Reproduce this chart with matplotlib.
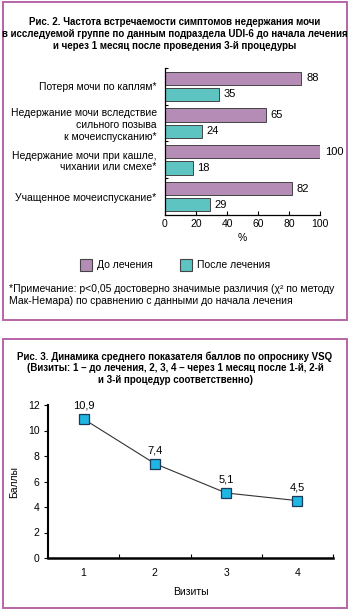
import matplotlib
matplotlib.use("Agg")
import matplotlib.pyplot as plt
from matplotlib.patches import Rectangle

plt.rcParams['font.family'] = ['Liberation Sans', 'DejaVu Sans']

# Рис. 2 data
symptoms = [
    "Потеря мочи по каплям*",
    "Недержание мочи вследствие\nсильного позыва\nк мочеиспусканию*",
    "Недержание мочи при кашле,\nчихании или смехе*",
    "Учащенное мочеиспускание*",
]
before = [88, 65, 100, 82]
after = [35, 24, 18, 29]

# Рис. 3 data
visits = [1, 2, 3, 4]
scores = [10.9, 7.4, 5.1, 4.5]
score_labels = ["10,9", "7,4", "5,1", "4,5"]

W, H = 350, 611
fig = plt.figure(figsize=(W / 100, H / 100), dpi=100)

def box(x0, y0, x1, y1):
    # pixel coords (top-left origin) -> figure fraction
    return [x0 / W, 1 - y1 / H, (x1 - x0) / W, (y1 - y0) / H]

# panel frames
for y0, y1 in [(2, 320), (339, 608)]:
    b = box(3, y0, 347, y1)
    fig.patches.append(Rectangle((b[0], b[1]), b[2], b[3], transform=fig.transFigure,
                                 fill=False, edgecolor='#b565a7', linewidth=1.4))

# ---------- Рис. 2 ----------
fig.text(175 / W, 1 - 17 / H,
         "Рис. 2. Частота встречаемости симптомов недержания мочи\n"
         "в исследуемой группе по данным подраздела UDI-6 до начала лечения\n"
         "и через 1 месяц после проведения 3-й процедуры",
         ha='center', va='top', fontsize=7, fontweight='bold', linespacing=1.25)

ax = fig.add_axes(box(165, 68, 320, 215))
pos = list(range(len(symptoms)))
purple = '#b48cb5'
teal = '#5ec4c2'
ax.barh([p - 0.22 for p in pos], before, height=0.36, color=purple, edgecolor='#444444', linewidth=0.7)
ax.barh([p + 0.22 for p in pos], after, height=0.36, color=teal, edgecolor='#444444', linewidth=0.7)
for p, b, a in zip(pos, before, after):
    ax.text(b + 3, p - 0.22, str(b), va='center', ha='left', fontsize=8)
    ax.text(a + 3, p + 0.22, str(a), va='center', ha='left', fontsize=8)

ax.set_xlim(0, 100)
ax.set_ylim(3.5, -0.5)
ax.set_xticks(range(0, 101, 20))
ax.tick_params(axis='x', direction='in', length=3, width=0.8, labelsize=7.5, pad=3)
ax.set_yticks(pos)
ax.set_yticklabels(symptoms, fontsize=7.5)
ax.tick_params(axis='y', length=0, pad=6)
ax.set_yticks([-0.5, 0.5, 1.5, 2.5], minor=True)
ax.tick_params(axis='y', which='minor', direction='in', length=2, width=0.8)
for s in ['top', 'right']:
    ax.spines[s].set_visible(False)
for s in ['left', 'bottom']:
    ax.spines[s].set_linewidth(0.9)
ax.set_xlabel("%", fontsize=7.5, labelpad=3)

# legend
fig.patches.append(Rectangle((80 / W, 1 - 271 / H), 12 / W, 12 / H, transform=fig.transFigure,
                             facecolor=purple, edgecolor='#444444', linewidth=0.8))
fig.text(97 / W, 1 - 265 / H, "До лечения", ha='left', va='center', fontsize=7.5)
fig.patches.append(Rectangle((180 / W, 1 - 271 / H), 12 / W, 12 / H, transform=fig.transFigure,
                             facecolor=teal, edgecolor='#444444', linewidth=0.8))
fig.text(197 / W, 1 - 265 / H, "После лечения", ha='left', va='center', fontsize=7.5)

fig.text(9 / W, 1 - 284 / H,
         "*Примечание: p<0,05 достоверно значимые различия (χ² по методу\n"
         "Мак-Немара) по сравнению с данными до начала лечения",
         ha='left', va='top', fontsize=7.5, linespacing=1.3)

# ---------- Рис. 3 ----------
fig.text(175 / W, 1 - 351 / H,
         "Рис. 3. Динамика среднего показателя баллов по опроснику VSQ\n"
         "(Визиты: 1 – до лечения, 2, 3, 4 – через 1 месяц после 1-й, 2-й\n"
         "и 3-й процедур соответственно)",
         ha='center', va='top', fontsize=7, fontweight='bold', linespacing=1.2)

ax2 = fig.add_axes(box(48, 405, 333, 558))
ax2.plot(visits, scores, color='#333333', linewidth=0.8, marker='s', markersize=7.5,
         markerfacecolor='#1fb6e3', markeredgecolor='#1a3a5a', markeredgewidth=0.9)
for v, s, lbl in zip(visits, scores, score_labels):
    ax2.annotate(lbl, (v, s), xytext=(0, 6), textcoords='offset points',
                 ha='center', va='bottom', fontsize=8)
ax2.set_xlim(0.5, 4.5)
ax2.set_ylim(0, 12)
ax2.set_yticks(range(0, 13, 2))
ax2.set_xticks(visits)
ax2.tick_params(axis='x', length=0, labelsize=7.5, pad=7)
ax2.set_xticks([1.5, 2.5, 3.5, 4.5], minor=True)
ax2.tick_params(axis='x', which='minor', direction='in', length=3, width=0.8)
ax2.tick_params(axis='y', direction='out', length=3, width=0.8, labelsize=7.5, pad=3)
for s in ['top', 'right']:
    ax2.spines[s].set_visible(False)
ax2.spines['left'].set_linewidth(1.5)
ax2.spines['bottom'].set_linewidth(1.8)
ax2.set_xlabel("Визиты", fontsize=7.5, labelpad=7)
ax2.set_ylabel("Баллы", fontsize=7.5, labelpad=6)

fig.savefig("out.png", dpi=100)
